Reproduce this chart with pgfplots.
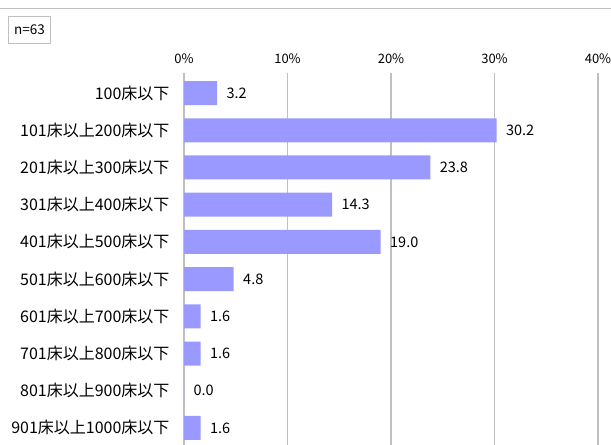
\documentclass[border=0pt]{standalone}
\usepackage{pgfplots}
\pgfplotsset{compat=1.18}
\usepackage{fontspec}
\setmainfont{Noto Sans CJK JP}
\definecolor{barc}{RGB}{153,153,255}
\definecolor{gridc}{RGB}{192,192,192}
\begin{document}
\begin{tikzpicture}[x=1bp,y=1bp]
\useasboundingbox (0,0) rectangle (611,-445);
\draw[gridc, line width=1bp] (0,-9) -- (611,-9);
\node[draw=gridc, line width=0.8bp, anchor=north west, minimum width=42bp, minimum height=27bp, inner sep=0pt, font=\fontsize{13.5bp}{15bp}\selectfont] at (8,-16) {n=63};
\begin{axis}[
  at={(184bp,-73bp)}, anchor=north west,
  width=414bp, height=372bp, scale only axis,
  xmin=0, xmax=40, ymin=-0.54, ymax=9.46, y dir=reverse,
  axis x line*=top, axis y line*=left,
  axis line style={gridc, line width=1.5bp},
  x axis line style={draw=none},
  xtick={0,10,20,30,40},
  xticklabels={0\%,10\%,20\%,30\%,40\%},
  xmajorgrids, grid style={gridc, line width=1.5bp},
  major tick length=0pt,
  ytick={0,...,9},
  yticklabels={100床以下,101床以上200床以下,201床以上300床以下,301床以上400床以下,401床以上500床以下,501床以上600床以下,601床以上700床以下,701床以上800床以下,801床以上900床以下,901床以上1000床以下},
  x tick label style={font=\fontsize{13bp}{15bp}\selectfont, yshift=6bp},
  y tick label style={font=\fontsize{16bp}{18bp}\selectfont, xshift=-11bp},
  /pgf/number format/assume math mode=true,
  xbar, bar width=24bp,
  nodes near coords={\pgfmathprintnumber[fixed,fixed zerofill,precision=1]{\pgfplotspointmeta}},
  nodes near coords style={font=\fontsize{14.5bp}{16bp}\selectfont, anchor=west, xshift=6bp},
  point meta=x,
  clip=false,
]
\addplot[fill=barc, draw=none] coordinates {
(3.2,0) (30.2,1) (23.8,2) (14.3,3) (19.0,4) (4.8,5) (1.6,6) (1.6,7) (0.0,8) (1.6,9)};
\end{axis}
\end{tikzpicture}
\end{document}
